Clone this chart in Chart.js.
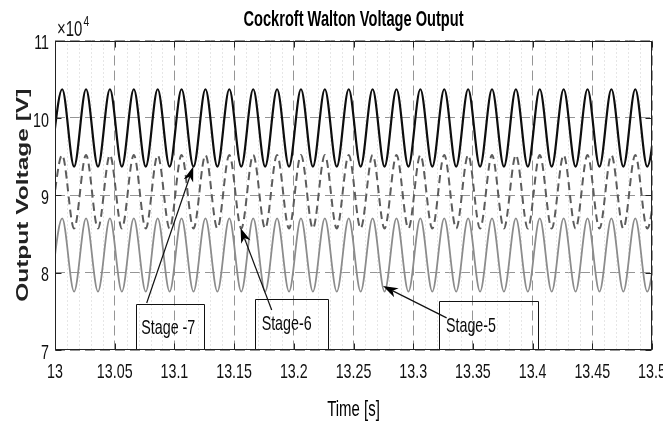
<!DOCTYPE html>
<html><head><meta charset="utf-8">
<script src="https://cdn.jsdelivr.net/npm/chart.js@4/dist/chart.umd.min.js"></script>
<style>html,body{margin:0;padding:0;background:#fff;}canvas{display:block;}</style>
</head><body>
<canvas id="c" width="663" height="426" style="width:663px;height:426px"></canvas>
<script>
// ---- data (successive troughs / crests of each stage) ----
const times = [12.996,13.006,13.016,13.026,13.036,13.046,13.056,13.066,13.076,13.086,
  13.096,13.106,13.116,13.126,13.136,13.146,13.156,13.166,13.176,13.186,
  13.196,13.206,13.216,13.226,13.236,13.246,13.256,13.266,13.276,13.286,
  13.296,13.306,13.316,13.326,13.336,13.346,13.356,13.366,13.376,13.386,
  13.396,13.406,13.416,13.426,13.436,13.446,13.456,13.466,13.476,13.486,
  13.496,13.506];
const stage7 = [93700,103700,93700,103700,93700,103700,93700,103700,93700,103700,
  93700,103700,93700,103700,93700,103700,93700,103700,93700,103700,
  93700,103700,93700,103700,93700,103700,93700,103700,93700,103700,
  93700,103700,93700,103700,93700,103700,93700,103700,93700,103700,
  93700,103700,93700,103700,93700,103700,93700,103700,93700,103700,
  93700,103700];
const stage6 = [85700,95200,85700,95200,85700,95200,85700,95200,85700,95200,
  85700,95200,85700,95200,85700,95200,85700,95200,85700,95200,
  85700,95200,85700,95200,85700,95200,85700,95200,85700,95200,
  85700,95200,85700,95200,85700,95200,85700,95200,85700,95200,
  85700,95200,85700,95200,85700,95200,85700,95200,85700,95200,
  85700,95200];
const stage5 = [77550,87000,77550,87000,77550,87000,77550,87000,77550,87000,
  77550,87000,77550,87000,77550,87000,77550,87000,77550,87000,
  77550,87000,77550,87000,77550,87000,77550,87000,77550,87000,
  77550,87000,77550,87000,77550,87000,77550,87000,77550,87000,
  77550,87000,77550,87000,77550,87000,77550,87000,77550,87000,
  77550,87000];
const xTicks = [13,13.05,13.1,13.15,13.2,13.25,13.3,13.35,13.4,13.45,13.5];
const yTicks = [70000,80000,90000,100000,110000];
const labelNames = ['Stage -7','Stage-6','Stage-5'];
// annotation boxes / arrows in data units (time, volts)
const boxT0 = [13.0676,13.1675,13.3216];
const boxT1 = [13.1248,13.2286,13.4045];
const boxVTop = [75960,76600,76340];
const textT = [13.0949,13.1940,13.3484];
const textV = [72850,73370,73100];
const arrowFromT = [13.0768,13.1815,13.3280];
const arrowFromV = [76080,75180,74150];
const arrowToT = [13.1158,13.1554,13.2747];
const arrowToV = [93700,85780,78280];

const FONT = '"Liberation Sans",Arial,Helvetica,sans-serif';
const SQUEEZE = 0.68; // the reference figure's text is horizontally condensed

const canvas = document.getElementById('c');
const ctx0 = canvas.getContext('2d');
const nativeFill = ctx0.fillText;
ctx0.fillText = function(text, x, y, maxWidth){
  const m = this.getTransform();
  const p = m.transformPoint(new DOMPoint(x, y));
  this.save();
  this.setTransform(new DOMMatrix().translate(p.x, p.y).scale(SQUEEZE, 1).translate(-p.x, -p.y).multiply(m));
  if (maxWidth === undefined) nativeFill.call(this, text, x, y);
  else nativeFill.call(this, text, x, y, maxWidth);
  this.restore();
};

const pts = arr => arr.map((v,i)=>({x:times[i], y:v}));

const decor = {
  id:'decor',
  beforeDatasetsDraw(chart){
    const {ctx, chartArea:a, scales:{x}} = chart;
    ctx.save();
    ctx.strokeStyle = '#cdcdcd'; ctx.lineWidth = 1; ctx.setLineDash([1,3]);
    for (let k=1;k<50;k++){
      if (k%5===0) continue;
      const px = Math.round(x.getPixelForValue(13 + k*0.01))+0.5;
      ctx.beginPath(); ctx.moveTo(px,a.top); ctx.lineTo(px,a.bottom); ctx.stroke();
    }
    ctx.restore();
  },
  afterDatasetsDraw(chart){
    const {ctx, chartArea:a, scales:{x,y}} = chart;
    ctx.save();
    ctx.beginPath(); ctx.rect(a.left,a.top,a.right-a.left,a.bottom-a.top); ctx.clip();
    ctx.strokeStyle='#111'; ctx.lineWidth=1; ctx.setLineDash([]);
    for (let i=0;i<labelNames.length;i++){
      const x0=Math.round(x.getPixelForValue(boxT0[i]))+0.5, x1=Math.round(x.getPixelForValue(boxT1[i]))+0.5;
      const y0=Math.round(y.getPixelForValue(boxVTop[i]))+0.5, y1=y.getPixelForValue(70000);
      ctx.beginPath(); ctx.moveTo(x0,y1); ctx.lineTo(x0,y0); ctx.lineTo(x1,y0); ctx.lineTo(x1,y1); ctx.stroke();
    }
    for (let i=0;i<labelNames.length;i++){
      const x1=x.getPixelForValue(arrowFromT[i]), y1=y.getPixelForValue(arrowFromV[i]);
      const x2=x.getPixelForValue(arrowToT[i]), y2=y.getPixelForValue(arrowToV[i]);
      const ang=Math.atan2(y2-y1,x2-x1), L=15, W=5;
      const bx=x2-L*Math.cos(ang), by=y2-L*Math.sin(ang);
      ctx.strokeStyle='#111'; ctx.lineWidth=1.2;
      ctx.beginPath(); ctx.moveTo(x1,y1); ctx.lineTo(bx+4*Math.cos(ang),by+4*Math.sin(ang)); ctx.stroke();
      ctx.fillStyle='#000';
      const nx=-Math.sin(ang), ny=Math.cos(ang);
      const mx=x2-0.72*L*Math.cos(ang), my=y2-0.72*L*Math.sin(ang);
      ctx.beginPath(); ctx.moveTo(x2,y2); ctx.lineTo(bx+nx*W,by+ny*W); ctx.lineTo(mx,my); ctx.lineTo(bx-nx*W,by-ny*W); ctx.closePath(); ctx.fill();
    }
    ctx.fillStyle='#0a0a0a'; ctx.font='21px '+FONT; ctx.textAlign='center'; ctx.textBaseline='middle';
    for (let i=0;i<labelNames.length;i++){
      ctx.fillText(labelNames[i], x.getPixelForValue(textT[i]), y.getPixelForValue(textV[i]));
    }
    ctx.restore();
  },
  afterDraw(chart){
    const {ctx, chartArea:a, scales:{x,y}} = chart;
    ctx.save();
    ctx.strokeStyle='#222'; ctx.lineWidth=1; ctx.setLineDash([]);
    const L=Math.round(a.left)+0.5, R=Math.round(a.right)-0.5, T=Math.round(a.top)+0.5, B=Math.round(a.bottom)-0.5;
    ctx.strokeRect(L,T,R-L,B-T);
    ctx.beginPath();
    xTicks.forEach(v=>{const px=Math.round(x.getPixelForValue(v))+0.5; ctx.moveTo(px,B); ctx.lineTo(px,B-6); ctx.moveTo(px,T); ctx.lineTo(px,T+6);});
    yTicks.forEach(v=>{const py=Math.round(y.getPixelForValue(v))+0.5; ctx.moveTo(L,py); ctx.lineTo(L+6,py); ctx.moveTo(R,py); ctx.lineTo(R-6,py);});
    ctx.stroke();
    ctx.fillStyle='#111'; ctx.textBaseline='alphabetic'; ctx.textAlign='left';
    ctx.font='22px '+FONT;
    const ex = a.left+2, ey = a.top-5;
    ctx.fillText('\u00d710', ex, ey);
    const w = ctx.measureText('\u00d710').width*SQUEEZE;
    ctx.font='15px '+FONT;
    ctx.fillText('4', ex+w+1, ey-10);
    ctx.restore();
  }
};

new Chart(canvas, {
  type:'line',
  data:{datasets:[
    {label:'Stage-5', data:pts(stage5), borderColor:'#8c8c8c', borderWidth:1.8, cubicInterpolationMode:'monotone'},
    {label:'Stage-6', data:pts(stage6), borderColor:'#5c5c5c', borderWidth:2, borderDash:[8,5], cubicInterpolationMode:'monotone'},
    {label:'Stage-7', data:pts(stage7), borderColor:'#0e0e0e', borderWidth:2.2, cubicInterpolationMode:'monotone'}
  ]},
  options:{
    responsive:false, animation:false, devicePixelRatio:1,
    layout:{padding:{left:0,right:11,top:0,bottom:0}},
    elements:{point:{radius:0}},
    plugins:{
      legend:{display:false}, tooltip:{enabled:false},
      title:{display:true, fullSize:false, text:'Cockroft Walton Voltage Output', color:'#000',
        font:{family:FONT, size:21.5, weight:'bold'}, padding:{top:7,bottom:7.7}}
    },
    scales:{
      x:{type:'linear', min:13, max:13.5,
        afterBuildTicks:s=>{s.ticks=xTicks.map(v=>({value:v}));},
        afterFit:s=>{s.height=76; s.paddingLeft=0; s.paddingRight=0;},
        ticks:{color:'#111', font:{family:FONT,size:21}, padding:10, maxRotation:0, autoSkip:false,
          callback:v=>String(+(+v).toFixed(2))},
        grid:{color:'#959595', lineWidth:1, drawTicks:false},
        border:{display:false, dash:[10,5]},
        title:{display:true, text:'Time [s]', color:'#000', font:{family:FONT,size:22}, padding:{top:0,bottom:3}}
      },
      y:{min:70000, max:110000,
        afterBuildTicks:s=>{s.ticks=yTicks.map(v=>({value:v}));},
        afterFit:s=>{s.width=55; s.paddingTop=0; s.paddingBottom=0;},
        ticks:{color:'#111', font:{family:FONT,size:21}, padding:6, labelOffset:3,
          callback:v=>String(v/10000)},
        grid:{color:'#959595', lineWidth:1, drawTicks:false},
        border:{display:false, dash:[10,5]},
        title:{display:true, text:'Output Voltage [V]', color:'#222', font:{family:FONT,size:24.5,weight:'bold'}, padding:{top:9,bottom:0}}
      }
    }
  },
  plugins:[decor]
});
</script>
</body></html>
